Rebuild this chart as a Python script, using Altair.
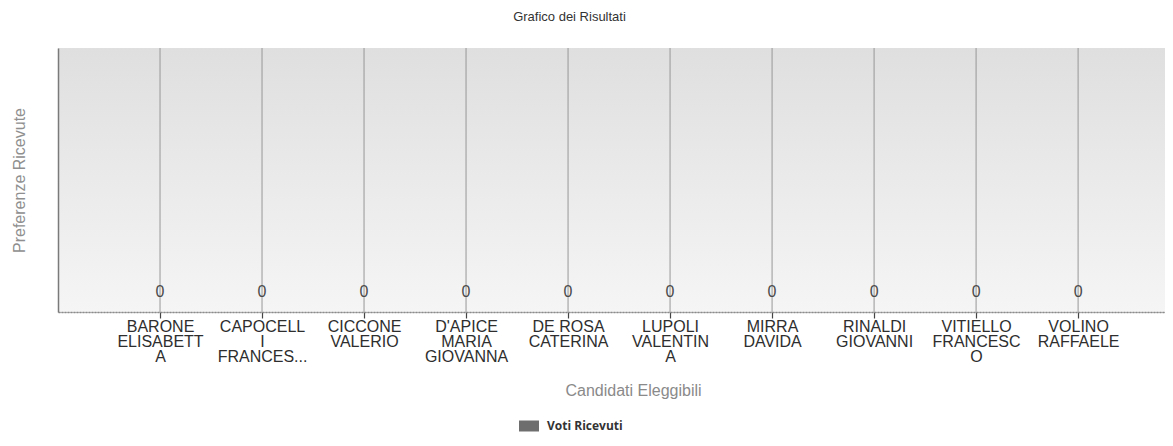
import altair as alt
import pandas as pd

# Tick labels (wrapped as in the reference, '|' = line break)
candidates = [
    "BARONE|ELISABETT|A",
    "CAPOCELL|I|FRANCES...",
    "CICCONE|VALERIO",
    "D'APICE|MARIA|GIOVANNA",
    "DE ROSA|CATERINA",
    "LUPOLI|VALENTIN|A",
    "MIRRA|DAVIDA",
    "RINALDI|GIOVANNI",
    "VITIELLO|FRANCESC|O",
    "VOLINO|RAFFAELE",
]
votes = [0, 0, 0, 0, 0, 0, 0, 0, 0, 0]
series = "Voti Ricevuti"

df = pd.DataFrame({"cand": candidates, "votes": votes, "series": [series] * len(candidates)})
bg_df = pd.DataFrame({"k": [0]})

W, H = 1107, 264
FONT = "Liberation Sans"

xscale = alt.Scale(domain=candidates, type="point", padding=0.926, align=0.54)
yscale = alt.Scale(domain=[0, 1])

background = alt.Chart(bg_df).mark_rect(
    color=alt.LinearGradient(
        gradient="linear",
        stops=[alt.GradientStop(color="#dfdfdf", offset=0),
               alt.GradientStop(color="#e9e9e9", offset=0.45),
               alt.GradientStop(color="#f5f5f5", offset=1)],
        x1=0, x2=0, y1=0, y2=1,
    )
).encode(x=alt.value(0), x2=alt.value("width"), y=alt.value(0), y2=alt.value("height"))

base = alt.Chart(df)

xaxis = alt.Axis(
    title="Candidati Eleggibili",
    labelExpr="split(datum.label, '|')",
    labelAngle=0, labelAlign="center",
    labelFont=FONT, labelFontSize=16, labelColor="#2e2e2e", labelLineHeight=15,
    labelPadding=0, labelBaseline="top",
    tickSize=6, tickColor="#444", tickWidth=1.2,
    domainColor="#8c8c8c", domainWidth=1.5, domainDash=[2, 1],
    grid=False,
    titleFont=FONT, titleFontSize=16, titleFontWeight="normal", titleColor="#8a8a8a",
    titlePadding=18, titleX=575,
    zindex=1,
)

yaxis = alt.Axis(
    title="Preferenze Ricevute", labels=False, ticks=False, grid=False,
    domainColor="#7a7a7a", domainWidth=1.5,
    titleFont=FONT, titleFontSize=16, titleFontWeight="normal", titleColor="#8f8f8f",
    titlePadding=31, zindex=1,
)

grid = base.mark_rule(color="#979797", strokeWidth=1).encode(
    x=alt.X("cand:N", scale=xscale, sort=candidates, axis=xaxis),
    y=alt.value(0), y2=alt.value("height"),
)

bars = base.mark_bar(size=40).encode(
    x=alt.X("cand:N", scale=xscale, axis=xaxis, sort=candidates),
    y=alt.Y("votes:Q", scale=yscale, axis=yaxis),
    color=alt.Color("series:N", scale=alt.Scale(range=["#6e6e6e"]),
                    legend=alt.Legend(title=None, orient="none", legendX=461, legendY=368,
                                      symbolType="M-1,-0.55H1V0.55H-1Z", symbolSize=400,
                                      symbolStrokeWidth=0, symbolOpacity=1,
                                      labelFont="Open Sans", labelFontSize=12,
                                      labelFontWeight="bold", labelColor="#333",
                                      labelOffset=8)),
)

labels = base.mark_text(font=FONT, fontSize=16, color="#4a4a4a", dy=-15, baseline="alphabetic").encode(
    x=alt.X("cand:N", scale=xscale, sort=candidates, axis=xaxis),
    y=alt.Y("votes:Q", scale=yscale, axis=yaxis),
    text=alt.Text("votes:Q"),
)

chart = alt.layer(background, grid, bars, labels).properties(
    width=W, height=H,
    title=alt.TitleParams("Grafico dei Risultati", font=FONT, fontSize=13, fontWeight="normal",
                          color="#333", anchor="middle", offset=24, dx=-42),
    autosize=alt.AutoSizeParams(type="none"),
    padding={"left": 50, "top": 40, "right": 0, "bottom": 126},
).configure_view(stroke="#c4c4c4", strokeWidth=1)

chart.save("out.html", embed_options={"renderer": "svg", "actions": False})
